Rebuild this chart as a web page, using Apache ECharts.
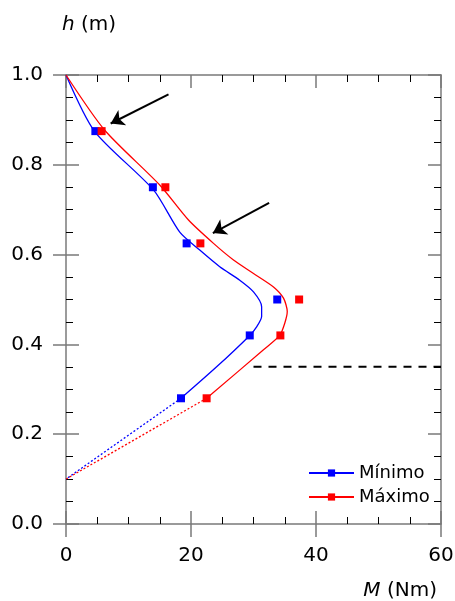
<!DOCTYPE html>
<html>
<head>
<meta charset="utf-8">
<script src="https://cdn.jsdelivr.net/npm/echarts@6/dist/echarts.min.js"></script>
<style>
  html, body { margin: 0; padding: 0; background: #fff; }
  #chart { width: 455px; height: 601px; }
</style>
</head>
<body>
<div id="chart"></div>
<script>
// measured points (M in Nm, h in m)
const minPointsM = [4.7, 13.9, 19.3, 33.8, 29.4, 18.4];
const minPointsH = [0.875, 0.75, 0.625, 0.5, 0.42, 0.28];
const maxPointsM = [5.7, 15.9, 21.5, 37.3, 34.3, 22.5];
const maxPointsH = [0.875, 0.75, 0.625, 0.5, 0.42, 0.28];

// fitted curves
const minCurveM = [0, 4.6, 14.0, 18.2, 21.4, 24.6, 27.8, 30.0, 31.3, 31.3, 30.5, 29.4, 24.1, 18.4];
const minCurveH = [1.0, 0.874, 0.744, 0.65, 0.61, 0.573, 0.543, 0.517, 0.484, 0.462, 0.439, 0.42, 0.35, 0.28];
const maxCurveM = [0, 6.2, 15.0, 19.6, 23.6, 26.8, 30.0, 33.2, 34.8, 35.4, 35.0, 34.2, 31.6, 22.5];
const maxCurveH = [1.0, 0.877, 0.755, 0.677, 0.625, 0.588, 0.558, 0.528, 0.503, 0.473, 0.447, 0.42, 0.388, 0.28];

// dotted extrapolation down to h = 0.1
const minExtM = [18.4, 0];
const minExtH = [0.28, 0.1];
const maxExtM = [22.5, 0];
const maxExtH = [0.28, 0.1];

// dashed level line
const levelM = [30, 60];
const levelH = [0.35, 0.35];

// arrows [from, to]
const arrows = [
  [[16.4, 0.957], [7.15, 0.892]],
  [[32.5, 0.715], [23.5, 0.648]]
];

const xTicks = [0, 20, 40, 60];
const yTicks = [0.0, 0.2, 0.4, 0.6, 0.8, 1.0];

const zip = (a, b) => a.map((v, i) => [v, b[i]]);

const FONT = "DejaVu Sans";
const AXIS_GREY = "#7a7a7a";

const chart = echarts.init(document.getElementById("chart"));

const baseX = {
  type: "value",
  min: xTicks[0],
  max: xTicks[xTicks.length - 1],
  interval: 20,
  splitLine: { show: false },
  axisLine: { show: false, onZero: false }
};
const baseY = {
  type: "value",
  min: yTicks[0],
  max: yTicks[yTicks.length - 1],
  interval: 0.2,
  splitLine: { show: false },
  axisLine: { show: false, onZero: false }
};

const option = {
  animation: false,
  textStyle: { fontFamily: FONT },
  grid: { left: 66, right: 14, top: 75, bottom: 77, containLabel: false, outerBoundsMode: "none" },
  legend: {
    orient: "vertical",
    left: 303,
    top: 459,
    itemWidth: 45,
    itemHeight: 9,
    itemGap: 6,
    data: ["Mínimo", "Máximo"],
    textStyle: { fontFamily: FONT, fontSize: 18, color: "#000" }
  },
  xAxis: [
    Object.assign({}, baseX, {
      position: "bottom",
      axisLine: { show: true, onZero: false, lineStyle: { color: AXIS_GREY, width: 1.5 } },
      axisTick: { inside: false, length: 13, lineStyle: { color: AXIS_GREY, width: 1.5 } },
      axisLabel: { margin: 22, fontSize: 20, color: "#000", fontFamily: FONT },
      name: "{i|M} (Nm)",
      nameLocation: "end",
      nameGap: -4,
      nameTextStyle: {
        align: "right",
        verticalAlign: "top",
        padding: [57, 0, 0, 0],
        fontSize: 20,
        color: "#000",
        fontFamily: FONT,
        rich: { i: { fontStyle: "italic", fontSize: 20, fontFamily: FONT, color: "#000" } }
      }
    }),
    Object.assign({}, baseX, {
      position: "bottom",
      axisTick: { inside: true, length: 13, lineStyle: { color: AXIS_GREY, width: 1.5 } },
      minorTick: { show: true, splitNumber: 4, length: 7, lineStyle: { color: "#000", width: 1 } },
      axisLabel: { show: false }
    }),
    Object.assign({}, baseX, {
      position: "top",
      axisLine: { show: true, onZero: false, lineStyle: { color: AXIS_GREY, width: 1.5 } },
      axisTick: { inside: true, length: 13, lineStyle: { color: AXIS_GREY, width: 1.5 } },
      minorTick: { show: true, splitNumber: 4, length: 7, lineStyle: { color: "#000", width: 1 } },
      axisLabel: { show: false }
    })
  ],
  yAxis: [
    Object.assign({}, baseY, {
      position: "left",
      axisLine: { show: true, onZero: false, lineStyle: { color: AXIS_GREY, width: 1.5 } },
      axisTick: { inside: false, length: 13, lineStyle: { color: AXIS_GREY, width: 1.5 } },
      axisLabel: {
        margin: 23,
        fontSize: 20,
        color: "#000",
        fontFamily: FONT,
        formatter: (v) => v.toFixed(1)
      },
      name: "{i|h} (m)",
      nameLocation: "end",
      nameGap: 50,
      nameTextStyle: {
        align: "left",
        verticalAlign: "middle",
        padding: [0, 0, 0, -4],
        fontSize: 20,
        color: "#000",
        fontFamily: FONT,
        rich: { i: { fontStyle: "italic", fontSize: 20, fontFamily: FONT, color: "#000" } }
      }
    }),
    Object.assign({}, baseY, {
      position: "left",
      axisTick: { inside: true, length: 13, lineStyle: { color: AXIS_GREY, width: 1.5 } },
      minorTick: { show: true, splitNumber: 4, length: 7, lineStyle: { color: "#000", width: 1 } },
      axisLabel: { show: false }
    }),
    Object.assign({}, baseY, {
      position: "right",
      axisLine: { show: true, onZero: false, lineStyle: { color: AXIS_GREY, width: 1.5 } },
      axisTick: { inside: true, length: 13, lineStyle: { color: AXIS_GREY, width: 1.5 } },
      minorTick: { show: true, splitNumber: 4, length: 7, lineStyle: { color: "#000", width: 1 } },
      axisLabel: { show: false }
    })
  ],
  series: [
    {
      name: "Mínimo",
      type: "line",
      data: zip(minCurveM, minCurveH),
      smooth: 0.25,
      symbol: "rect",
      symbolSize: 8,
      showSymbol: false,
      itemStyle: { color: "#0000ff", opacity: 1 },
      lineStyle: { color: "#0000ff", width: 1.3 },
      silent: true,
      z: 2
    },
    {
      name: "Máximo",
      type: "line",
      data: zip(maxCurveM, maxCurveH),
      smooth: 0.25,
      symbol: "rect",
      symbolSize: 8,
      showSymbol: false,
      itemStyle: { color: "#ff0000", opacity: 1 },
      lineStyle: { color: "#ff0000", width: 1.3 },
      silent: true,
      z: 2
    },
    {
      name: "minExt",
      type: "line",
      data: zip(minExtM, minExtH),
      symbol: "none",
      lineStyle: { color: "#0000ff", width: 1.3, type: [2, 2] },
      silent: true
    },
    {
      name: "maxExt",
      type: "line",
      data: zip(maxExtM, maxExtH),
      symbol: "none",
      lineStyle: { color: "#ff0000", width: 1.3, type: [2, 2] },
      silent: true
    },
    {
      name: "Mínimo",
      type: "scatter",
      data: zip(minPointsM, minPointsH),
      symbol: "rect",
      symbolSize: 8,
      itemStyle: { color: "#0000ff", opacity: 1 },
      z: 3
    },
    {
      name: "Máximo",
      type: "scatter",
      data: zip(maxPointsM, maxPointsH),
      symbol: "rect",
      symbolSize: 8,
      itemStyle: { color: "#ff0000", opacity: 1 },
      z: 4
    },
    {
      name: "level",
      type: "line",
      data: zip(levelM, levelH),
      symbol: "none",
      lineStyle: { color: "#000", width: 2, type: [8, 7] },
      silent: true
    },
    {
      name: "arrows",
      type: "lines",
      coordinateSystem: "cartesian2d",
      data: arrows.map((c) => ({ coords: c })),
      symbol: ["none", "arrow"],
      symbolSize: 13,
      lineStyle: { color: "#000", width: 2, opacity: 1 },
      silent: true,
      z: 5
    }
  ]
};

chart.setOption(option);
</script>
</body>
</html>
